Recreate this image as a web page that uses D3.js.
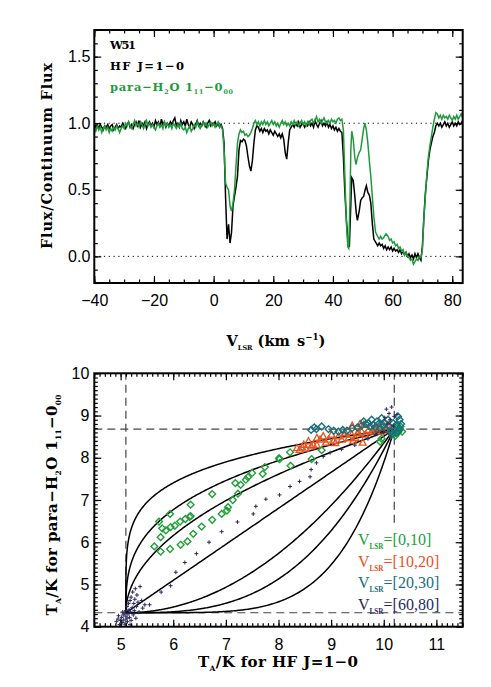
<!DOCTYPE html>
<html><head><meta charset="utf-8">
<script src="https://cdn.jsdelivr.net/npm/d3@7"></script>
<style>
html,body{margin:0;padding:0;background:#fff;}
svg{display:block;}
.tick text{font-family:"Liberation Sans",Arial,sans-serif;font-size:16px;fill:#000;}
.lbl{font-family:"DejaVu Serif",serif;font-weight:bold;fill:#000;}
.leg{font-family:"Liberation Serif",serif;}
</style></head><body>
<svg id="chart" width="491" height="687"></svg>
<script>
// ---------------- DATA ----------------
// Top panel: HF J=1-0 spectrum (velocity km/s, flux/continuum)
const hfSpectrum = [
[-40,1.00],[-39.5,0.97],[-39,0.99],[-38.5,0.96],[-38,0.99],[-37.5,0.97],[-37,0.95],[-36.5,0.98],[-36,0.97],[-35.5,0.99],[-35,0.96],[-34.5,0.98],[-34,0.99],[-33.5,0.95],[-33,0.97],[-32.5,0.99],[-32,0.96],[-31.5,0.98],[-31,0.97],[-30.5,1.00],[-30,0.98],[-29.5,0.96],[-29,0.99],[-28.5,1.01],[-28,0.97],[-27.5,0.99],[-27,0.96],[-26.5,0.99],[-26,1.01],[-25.5,0.98],[-25,1.02],[-24.5,0.97],[-24,1.00],[-23.5,0.98],[-23,1.01],[-22.5,0.96],[-22,0.99],[-21.5,1.01],[-21,0.98],[-20.5,1.00],[-20,0.97],[-19.5,1.02],[-19,0.99],[-18.5,1.01],[-18,0.97],[-17.5,1.03],[-17,0.99],[-16.5,1.01],[-16,0.97],[-15.5,1.00],[-15,0.98],[-14.5,1.01],[-14,0.99],[-13.5,1.02],[-13,1.04],[-12.5,0.98],[-12,1.00],[-11.5,0.97],[-11,1.02],[-10.5,0.99],[-10,1.01],[-9.5,0.98],[-9,1.03],[-8.5,0.99],[-8,0.97],[-7.5,1.01],[-7,0.99],[-6.5,0.96],[-6,0.99],[-5.5,1.02],[-5,0.98],[-4.5,1.00],[-4,0.98],[-3.5,1.01],[-3,0.99],[-2.5,0.97],[-2,1.00],[-1.5,1.02],[-1,0.98],[-0.5,1.00],[0,0.99],[0.5,1.01],[1,0.98],[1.5,1.00],[2,0.97],[2.5,0.99],[3,0.96],[3.5,0.85],[4,0.45],[4.5,0.13],[5,0.24],[5.5,0.10],[6,0.18],[6.5,0.38],[7,0.45],[7.5,0.52],[8,0.60],[8.5,0.80],[9,0.87],[9.5,0.86],[10,0.88],[10.5,0.87],[11,0.83],[11.5,0.75],[12,0.68],[12.5,0.64],[13,0.72],[13.5,0.85],[14,0.95],[14.5,0.98],[15,0.97],[15.5,0.94],[16,0.96],[16.5,0.93],[17,0.96],[17.5,0.94],[18,0.95],[18.5,0.92],[19,0.95],[19.5,0.93],[20,0.91],[20.5,0.94],[21,0.92],[21.5,0.90],[22,0.92],[22.5,0.89],[23,0.92],[23.5,0.88],[24,0.78],[24.5,0.73],[25,0.85],[25.5,0.95],[26,0.97],[26.5,0.99],[27,0.97],[27.5,1.00],[28,0.98],[28.5,1.01],[29,0.97],[29.5,0.99],[30,1.00],[30.5,0.97],[31,0.99],[31.5,0.98],[32,1.01],[32.5,0.98],[33,1.00],[33.5,0.97],[34,1.02],[34.5,0.99],[35,0.97],[35.5,1.00],[36,1.02],[36.5,0.98],[37,1.00],[37.5,0.98],[38,1.01],[38.5,0.97],[39,0.99],[39.5,0.96],[40,0.98],[40.5,0.95],[41,0.97],[41.5,0.94],[42,0.96],[42.5,0.94],[43,0.93],[43.5,0.75],[44,0.48],[44.5,0.28],[45,0.12],[45.5,0.07],[46,0.40],[46.3,0.59],[46.8,0.57],[47.3,0.46],[47.8,0.33],[48.2,0.27],[48.8,0.34],[49.3,0.42],[49.8,0.44],[50.3,0.45],[50.8,0.50],[51.2,0.53],[51.7,0.48],[52.2,0.46],[52.7,0.40],[53.2,0.25],[53.7,0.13],[54.5,0.10],[55,0.08],[55.5,0.10],[56,0.08],[56.5,0.09],[57,0.06],[57.5,0.08],[58,0.05],[58.5,0.07],[59,0.05],[59.5,0.07],[60,0.04],[60.5,0.06],[61,0.04],[61.5,0.05],[62,0.03],[62.5,0.05],[63,0.02],[63.5,0.04],[64,0.01],[64.5,0.03],[65,0.00],[65.5,0.02],[66,-0.01],[66.5,0.01],[67,-0.02],[67.5,0.02],[68,-0.01],[68.5,0.02],[69,-0.01],[69.5,-0.03],[70,0.08],[70.5,0.30],[71,0.48],[71.5,0.60],[72,0.72],[72.5,0.80],[73,0.85],[73.5,0.90],[74,0.93],[74.5,0.98],[75,1.00],[75.5,0.98],[76,1.00],[76.5,0.97],[77,0.99],[77.5,1.01],[78,0.98],[78.5,1.00],[79,0.97],[79.5,0.99],[80,1.01],[80.5,0.98],[81,1.00],[81.5,0.98],[82,1.01],[82.5,0.99],[83,1.00],[83.5,1.02],[84,1.00]
];
// Top panel: para-H2O 1_11-0_00 spectrum
const h2oSpectrum = [
[-40,0.97],[-39.5,0.94],[-39,0.98],[-38.5,0.95],[-38,0.97],[-37.5,0.93],[-37,0.96],[-36.5,0.98],[-36,0.95],[-35.5,0.97],[-35,0.93],[-34.5,0.96],[-34,0.94],[-33.5,0.97],[-33,0.95],[-32.5,0.98],[-32,0.96],[-31.5,0.93],[-31,0.96],[-30.5,0.98],[-30,0.96],[-29.5,1.00],[-29,0.98],[-28.5,1.01],[-28,0.98],[-27.5,0.96],[-27,0.99],[-26.5,1.02],[-26,0.98],[-25.5,1.00],[-25,0.97],[-24.5,1.01],[-24,0.99],[-23.5,0.96],[-23,0.99],[-22.5,1.02],[-22,0.98],[-21.5,1.00],[-21,0.97],[-20.5,0.99],[-20,0.97],[-19.5,0.95],[-19,0.98],[-18.5,1.00],[-18,0.97],[-17.5,0.99],[-17,0.96],[-16.5,1.01],[-16,0.98],[-15.5,1.00],[-15,0.97],[-14.5,0.99],[-14,0.96],[-13.5,1.00],[-13,0.98],[-12.5,0.96],[-12,0.99],[-11.5,0.97],[-11,1.00],[-10.5,0.96],[-10,0.95],[-9.5,0.97],[-9,0.93],[-8.5,0.96],[-8,0.98],[-7.5,0.94],[-7,0.96],[-6.5,0.99],[-6,0.97],[-5.5,1.01],[-5,0.98],[-4.5,0.96],[-4,0.99],[-3.5,1.01],[-3,0.98],[-2.5,1.00],[-2,0.97],[-1.5,0.99],[-1,1.01],[-0.5,0.98],[0,1.00],[0.5,0.97],[1,0.99],[1.5,1.01],[2,0.97],[2.5,0.98],[3,0.95],[3.5,0.80],[4,0.55],[4.5,0.52],[5,0.50],[5.5,0.38],[6,0.34],[6.5,0.40],[7,0.50],[7.5,0.68],[8,0.85],[8.5,0.92],[9,0.95],[9.5,0.93],[10,0.94],[10.5,0.91],[11,0.92],[11.5,0.90],[12,0.91],[12.5,0.93],[13,0.96],[13.5,1.00],[14,1.02],[14.5,0.99],[15,1.01],[15.5,0.98],[16,1.01],[16.5,0.99],[17,1.02],[17.5,0.99],[18,1.01],[18.5,0.98],[19,1.00],[19.5,1.02],[20,0.99],[20.5,1.01],[21,0.98],[21.5,1.00],[22,0.97],[22.5,1.00],[23,1.02],[23.5,0.99],[24,1.01],[24.5,0.98],[25,1.00],[25.5,0.98],[26,1.01],[26.5,0.99],[27,1.02],[27.5,0.99],[28,1.01],[28.5,0.98],[29,1.00],[29.5,1.02],[30,0.99],[30.5,1.01],[31,0.98],[31.5,1.01],[32,0.99],[32.5,1.02],[33,1.03],[33.5,1.00],[34,1.02],[34.5,1.05],[35,1.01],[35.5,1.03],[36,1.00],[36.5,1.02],[37,1.04],[37.5,1.01],[38,1.00],[38.5,1.02],[39,1.00],[39.5,1.03],[40,1.01],[40.5,1.02],[41,1.00],[41.5,1.03],[42,1.04],[42.5,1.02],[43,1.03],[43.5,0.95],[44,0.60],[44.5,0.25],[45,0.07],[45.3,0.06],[45.7,0.40],[46,0.80],[46.3,0.94],[46.8,0.88],[47.3,0.75],[47.7,0.69],[48.2,0.74],[48.8,0.78],[49.3,0.80],[49.8,0.88],[50.3,0.96],[50.7,1.00],[51.2,0.95],[51.7,0.85],[52.2,0.72],[52.7,0.60],[53.3,0.42],[53.8,0.28],[54.3,0.18],[55,0.15],[55.5,0.13],[56,0.15],[56.5,0.13],[57,0.14],[57.8,0.17],[58.5,0.15],[59,0.12],[59.5,0.13],[60,0.10],[60.5,0.11],[61,0.08],[61.5,0.09],[62,0.06],[62.5,0.07],[63,0.04],[63.5,0.05],[64,0.01],[64.5,0.03],[65,0.00],[65.5,-0.01],[66,-0.03],[66.5,-0.02],[67,-0.06],[67.5,-0.04],[68,-0.02],[68.5,-0.03],[69,0.00],[69.5,-0.01],[70,0.05],[70.5,0.30],[71,0.45],[71.5,0.62],[72,0.75],[72.5,0.83],[73,0.90],[73.5,0.97],[74,1.03],[74.5,1.08],[75,1.07],[75.5,1.04],[76,1.06],[76.5,1.03],[77,1.06],[77.5,1.04],[78,1.05],[78.5,1.03],[79,1.06],[79.5,1.04],[80,1.02],[80.5,1.05],[81,1.03],[81.5,1.06],[82,1.03],[82.5,1.05],[83,1.07],[83.5,1.04],[84,1.05]
];
const topXTicks = [-40,-20,0,20,40,60,80];
const topYTicks = [0.0,0.5,1.0,1.5];
const topRefLines = [0.0,1.0];
const topLegend = ["W51","HF J=1\u22120","para\u2212H2O 111\u2212000"];

// Bottom panel: T_A (HF) vs T_A (para-H2O) per velocity interval
const vel0_10 = [[5.73,6.49],[5.94,6.67],[6.33,6.89],[6.74,7.14],[7.18,7.40],[7.28,7.36],[7.38,7.48],[7.42,7.54],[7.50,7.64],[7.74,7.78],[7.70,7.62],[8.01,7.99],[5.79,6.33],[5.86,6.28],[5.95,6.36],[6.03,6.39],[6.13,6.49],[6.23,6.55],[6.31,6.60],[6.33,6.62],[5.76,6.12],[5.64,5.90],[5.94,5.84],[5.76,5.78],[6.14,5.94],[6.27,6.02],[6.38,6.20],[6.54,6.37],[6.74,6.53],[6.92,6.67],[7.02,6.75],[7.04,6.83],[7.13,7.00],[7.23,7.15],[8.02,7.97],[8.22,8.13],[8.23,7.81],[8.63,7.97],[8.82,8.18],[9.93,8.38],[9.96,8.45],[10.20,8.56],[10.27,8.60],[10.30,8.66],[10.32,8.74],[10.25,8.70],[10.35,8.62],[10.22,8.52]];
const vel10_20 = [[8.35,8.23],[8.40,8.19],[8.45,8.25],[8.48,8.31],[8.52,8.22],[8.57,8.39],[8.62,8.27],[8.66,8.31],[8.73,8.47],[8.73,8.30],[8.79,8.43],[8.85,8.51],[8.90,8.36],[8.95,8.43],[9.01,8.55],[9.05,8.40],[9.08,8.35],[9.14,8.51],[9.20,8.43],[9.24,8.55],[9.27,8.59],[9.33,8.47],[9.39,8.55],[9.42,8.40],[9.46,8.47],[9.50,8.58],[9.52,8.59],[9.58,8.62],[9.60,8.36],[9.65,8.55],[9.71,8.66],[9.77,8.62],[9.82,8.70],[9.87,8.70],[9.92,8.74],[9.96,8.62],[10.02,8.74],[10.08,8.78],[10.12,8.66],[9.55,8.80],[9.62,8.78],[9.40,8.76]];
const vel20_30 = [[8.62,8.66],[8.68,8.72],[8.72,8.68],[8.82,8.74],[8.95,8.68],[9.05,8.64],[9.14,8.62],[9.22,8.66],[9.30,8.64],[9.40,8.70],[9.50,8.72],[9.58,8.76],[9.62,8.86],[9.66,8.80],[9.71,8.82],[9.74,8.74],[9.77,8.90],[9.80,8.78],[9.84,8.72],[9.87,8.86],[9.90,8.80],[9.93,8.70],[9.96,8.94],[9.98,8.76],[10.02,8.82],[10.05,8.68],[10.08,8.90],[10.10,8.74],[10.14,8.62],[10.18,8.82],[10.21,8.66],[10.24,8.78],[10.24,8.59],[10.27,8.98],[10.30,8.90],[10.30,8.70],[10.15,8.55],[10.33,8.80],[10.28,8.64]];
const vel60_80 = [[4.92,4.12],[4.95,4.18],[4.98,4.05],[5.00,4.15],[5.02,4.22],[5.03,4.10],[5.05,4.28],[5.06,4.16],[5.08,4.32],[5.08,4.06],[5.10,4.25],[5.10,4.38],[5.12,4.20],[5.12,4.48],[5.13,4.12],[5.14,4.30],[5.15,4.55],[5.16,4.40],[5.17,4.22],[5.18,4.62],[5.18,4.05],[5.19,4.35],[5.20,4.70],[5.20,4.15],[5.22,4.45],[5.23,4.82],[5.24,4.28],[5.25,4.55],[5.26,4.38],[5.27,4.65],[5.28,4.90],[5.29,4.20],[5.30,4.48],[5.31,4.75],[5.33,4.58],[5.35,4.35],[5.37,4.95],[5.40,4.62],[5.42,4.44],[5.46,4.52],[4.96,4.26],[5.04,4.35],[5.55,4.52],[5.77,4.82],[5.95,4.97],[6.05,5.29],[6.22,5.52],[6.44,5.73],[6.68,6.00],[6.92,6.25],[7.22,6.48],[7.52,6.67],[7.57,6.85],[7.76,7.02],[8.02,7.12],[8.22,7.32],[8.40,7.44],[8.60,7.55],[8.62,7.72],[8.72,7.88],[8.85,8.03],[8.98,8.12],[9.20,8.20],[9.45,8.30],[9.70,8.45],[9.85,8.55],[10.0,8.60],[10.05,9.15],[10.10,9.05],[10.15,9.20],[10.02,8.95],[10.20,8.98],[10.12,8.90],[10.25,9.02],[10.08,8.80],[10.18,8.75]];
// model curves: ratio of optical depths tau(H2O)/tau(HF)
const tauRatios = [0.2, 1/3, 0.5, 1, 2, 3, 5];
const hfLimits = [5.1, 10.2];     // fully absorbed / continuum level (HF)
const h2oLimits = [4.33, 8.68];   // fully absorbed / continuum level (H2O)
const botXTicks = [5,6,7,8,9,10,11];
const botYTicks = [4,5,6,7,8,9,10];
const legendLabels = ["[0,10]","[10,20]","[20,30]","[60,80]"];
const legendColors = ["#22a03a","#e8541e","#17707c","#2a2a5e"];

// ---------------- DRAWING ----------------
const svg = d3.select("#chart");

function drawAxes(x, y, xMaj, xMin, yMaj, yMin, fx, fy, padX, padY) {
  const [x0, x1] = x.range(), [y0, y1] = y.range();
  const g = svg.append("g");
  const add = (axis, tr) => g.append("g").attr("transform", tr).call(axis)
      .call(s => s.select(".domain").remove())
      .call(s => s.selectAll("line").attr("stroke", "#000").attr("stroke-width", 1.2));
  add(d3.axisBottom(x).tickValues(xMin).tickSize(-3.5).tickFormat(""), `translate(0,${y0})`);
  add(d3.axisBottom(x).tickValues(xMaj).tickSize(-7).tickPadding(padX).tickFormat(fx), `translate(0,${y0})`);
  add(d3.axisTop(x).tickValues(xMin).tickSize(-3.5).tickFormat(""), `translate(0,${y1})`);
  add(d3.axisTop(x).tickValues(xMaj).tickSize(-7).tickFormat(""), `translate(0,${y1})`);
  add(d3.axisLeft(y).tickValues(yMin).tickSize(-3.5).tickFormat(""), `translate(${x0},0)`);
  add(d3.axisLeft(y).tickValues(yMaj).tickSize(-7).tickPadding(padY).tickFormat(fy), `translate(${x0},0)`);
  add(d3.axisRight(y).tickValues(yMin).tickSize(-3.5).tickFormat(""), `translate(${x1},0)`);
  add(d3.axisRight(y).tickValues(yMaj).tickSize(-7).tickFormat(""), `translate(${x1},0)`);
  g.append("rect").attr("x", x0).attr("y", y1).attr("width", x1 - x0).attr("height", y0 - y1)
    .attr("fill", "none").attr("stroke", "#000").attr("stroke-width", 2);
}

function rich(sel, parts, base) {
  let shift = 0;
  parts.forEach(p => {
    const ts = sel.append("tspan").text(p.t);
    let target = 0, size = base;
    if (p.sub) { target = base * 0.28; size = base * (p.s || 0.55); }
    if (p.sup) { target = -base * 0.42; size = base * 0.6; }
    ts.attr("font-size", size);
    if (p.w) ts.attr("font-weight", p.w);
    if (target !== shift) { ts.attr("dy", target - shift); shift = target; }
  });
}

// ---- TOP PANEL ----
const xT = d3.scaleLinear().domain([-40, 83.5]).range([94.3, 462.7]);
const yT = d3.scaleLinear().domain([-0.2, 1.7]).range([283, 30]);
svg.append("clipPath").attr("id", "clipT").append("rect")
  .attr("x", 94.3).attr("y", 30).attr("width", 462.7 - 94.3).attr("height", 253);

svg.append("g").selectAll("line").data(topRefLines).join("line")
  .attr("x1", xT.range()[0]).attr("x2", xT.range()[1])
  .attr("y1", d => yT(d)).attr("y2", d => yT(d))
  .attr("stroke", "#000").attr("stroke-width", 1).attr("stroke-dasharray", "1.2,3.6");

const specLine = d3.line().x(d => xT(d[0])).y(d => yT(d[1]));
const gT = svg.append("g").attr("clip-path", "url(#clipT)");
gT.append("path").attr("d", specLine(hfSpectrum)).attr("fill", "none").attr("stroke", "#000").attr("stroke-width", 1.5);
gT.append("path").attr("d", specLine(h2oSpectrum)).attr("fill", "none").attr("stroke", "#1f9b3b").attr("stroke-width", 1.5);

drawAxes(xT, yT, topXTicks, d3.range(-40, 84, 5), topYTicks,
  d3.range(-2, 18).map(d => d / 10), d3.format("d"), d3.format(".1f"), 12, 4);

// legend top
svg.append("text").attr("class", "lbl").attr("x", 110).attr("y", 49).attr("font-size", 11.5)
  .attr("textLength", 26).attr("lengthAdjust", "spacing").text(topLegend[0]);
svg.append("text").attr("class", "lbl").attr("x", 110).attr("y", 70).attr("font-size", 11.5)
  .attr("textLength", 74).attr("lengthAdjust", "spacing").text(topLegend[1]);
const tl3 = svg.append("text").attr("class", "lbl").attr("x", 110).attr("y", 91).attr("font-size", 11.5)
  .attr("textLength", 123).attr("lengthAdjust", "spacing").style("fill", "#1f9b3b");
rich(tl3, [{t:"para\u2212H"},{t:"2",sub:true},{t:"O 1"},{t:"11",sub:true},{t:"\u22120"},{t:"00",sub:true}], 11.5);

// axis titles top
const xtT = svg.append("text").attr("class", "lbl").attr("x", 276).attr("y", 346).attr("text-anchor", "middle")
  .attr("font-size", 14.5);
rich(xtT, [{t:"V"},{t:"LSR",sub:true,s:0.45},{t:" (km\u2002s"},{t:"\u22121",sup:true},{t:")"}], 14.5);
svg.append("text").attr("class", "lbl").attr("transform", "translate(52,156) rotate(-90)")
  .attr("text-anchor", "middle").attr("font-size", 14.5).attr("textLength", 186).attr("lengthAdjust", "spacing")
  .text("Flux/Continuum Flux");

// ---- BOTTOM PANEL ----
const xB = d3.scaleLinear().domain([4.5, 11.5]).range([94.3, 462.7]);
const yB = d3.scaleLinear().domain([4, 10]).range([626.7, 373.3]);
svg.append("clipPath").attr("id", "clipB").append("rect")
  .attr("x", 94.3).attr("y", 373.3).attr("width", 462.7 - 94.3).attr("height", 626.7 - 373.3);
const gB = svg.append("g").attr("clip-path", "url(#clipB)");

// dashed limit lines
gB.selectAll("line.v").data(hfLimits).join("line").attr("class", "v")
  .attr("x1", d => xB(d)).attr("x2", d => xB(d)).attr("y1", yB.range()[0]).attr("y2", yB.range()[1])
  .attr("stroke", "#444").attr("stroke-width", 1.2).attr("stroke-dasharray", "8,5");

// white box behind the legend (masks the vertical dashed line)
gB.append("rect").attr("x", 352).attr("y", 527).attr("width", 100).attr("height", 84).attr("fill", "#fff");

gB.selectAll("line.h").data(h2oLimits).join("line").attr("class", "h")
  .attr("y1", d => yB(d)).attr("y2", d => yB(d)).attr("x1", xB.range()[0]).attr("x2", xB.range()[1])
  .attr("stroke", "#444").attr("stroke-width", 1.2).attr("stroke-dasharray", "8,5");

// model curves
const curveLine = d3.line().x(d => xB(d[0])).y(d => yB(d[1]));
tauRatios.forEach(r => {
  const pts = d3.range(0, 301).map(i => {
    const u = Math.pow(i / 300, 2.5);
    return [hfLimits[0] + u * (hfLimits[1] - hfLimits[0]), h2oLimits[0] + Math.pow(u, r) * (h2oLimits[1] - h2oLimits[0])];
  });
  gB.append("path").attr("d", curveLine(pts)).attr("fill", "none").attr("stroke", "#000").attr("stroke-width", 1.5);
});

// markers
const diamond = "M0,-3.4L3.4,0L0,3.4L-3.4,0Z";
const tri = "M0,-3.6L3.4,2.6L-3.4,2.6Z";
const plus = "M-2,0H2M0,-2V2";
function markers(data, path, color, sw) {
  gB.append("g").selectAll("path").data(data).join("path")
    .attr("transform", d => `translate(${xB(d[0])},${yB(d[1])})`)
    .attr("d", path).attr("fill", "none").attr("stroke", color).attr("stroke-width", sw);
}
markers(vel0_10, diamond, legendColors[0], 1.4);
markers(vel10_20, tri, legendColors[1], 1.3);
markers(vel20_30, diamond, legendColors[2], 1.4);
markers(vel60_80, plus, legendColors[3], 1);

drawAxes(xB, yB, botXTicks, d3.range(45, 116).map(d => d / 10), botYTicks,
  d3.range(40, 101).map(d => d / 10), d3.format("d"), d3.format("d"), 12, 5);

// legend bottom
legendLabels.forEach((lab, i) => {
  const t = svg.append("text").attr("class", "leg").attr("x", 358).attr("y", 545 + i * 21.5)
    .attr("font-size", 16).style("fill", legendColors[i]);
  rich(t, [{t:"V"},{t:"LSR",sub:true,s:0.45,w:"bold"},{t:"=" + lab}], 16);
});

// axis titles bottom
const xtB = svg.append("text").attr("class", "lbl").attr("x", 278).attr("y", 667).attr("text-anchor", "middle")
  .attr("font-size", 15).attr("textLength", 160).attr("lengthAdjust", "spacing");
rich(xtB, [{t:"T"},{t:"A",sub:true,s:0.5},{t:"/K for HF J=1\u22120"}], 15);
const ytB = svg.append("text").attr("class", "lbl").attr("transform", "translate(57,505) rotate(-90)")
  .attr("text-anchor", "middle").attr("font-size", 15).attr("textLength", 221).attr("lengthAdjust", "spacing");
rich(ytB, [{t:"T"},{t:"A",sub:true,s:0.5},{t:"/K for para\u2212H"},{t:"2",sub:true,s:0.5},{t:"O 1"},{t:"11",sub:true,s:0.5},{t:"\u22120"},{t:"00",sub:true,s:0.5}], 15);
</script>
</body></html>
